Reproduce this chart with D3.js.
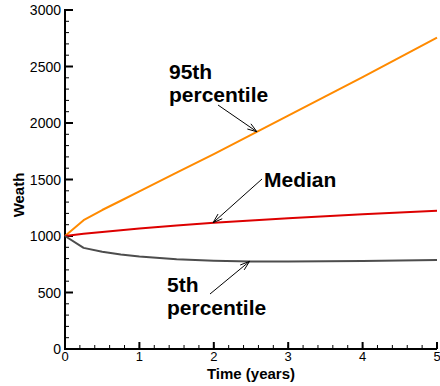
<!DOCTYPE html>
<html>
<head>
<meta charset="utf-8">
<script src="https://cdn.jsdelivr.net/npm/d3@7"></script>
<style>
  html, body { margin: 0; padding: 0; background: #fff; }
  svg { display: block; font-family: "Liberation Sans", Arial, Helvetica, sans-serif; }
</style>
</head>
<body>
<svg id="chart" width="440" height="386"></svg>
<script>
// Simulated wealth percentiles over a five-year horizon
const years = [0, 0.25, 0.5, 0.75, 1, 1.5, 2, 2.5, 3, 3.5, 4, 4.5, 5];
const p95    = [1000, 1140, 1230, 1312, 1395, 1560, 1725, 1895, 2065, 2235, 2405, 2580, 2755];
const median = [1000, 1020, 1036, 1051, 1066, 1093, 1118, 1138, 1157, 1175, 1192, 1208, 1224];
const p5     = [1000, 895, 860, 836, 818, 794, 781, 775, 774, 776, 779, 783, 787];

const xTicks = [0, 1, 2, 3, 4, 5];
const yTicks = [0, 500, 1000, 1500, 2000, 2500, 3000];

// Callout labels: text lines, anchor time for the arrow tip, and which series it points to
const callouts = [
  { lines: ["95th", "percentile"], series: p95,    tipT: 2.58 },
  { lines: ["Median"],             series: median, tipT: 1.99 },
  { lines: ["5th", "percentile"],  series: p5,     tipT: 2.48 }
];

const svg = d3.select("#chart");
const x = d3.scaleLinear().domain([0, 5]).range([65, 437]);
const y = d3.scaleLinear().domain([0, 3000]).range([349, 10]);

// Axes with inward-facing major and minor ticks
const axes = svg.append("g");
const xMinor = d3.range(0, 5.0001, 0.2);
const yMinor = d3.range(0, 3000.1, 100);

axes.append("g").selectAll("line").data(xMinor).join("line")
  .attr("x1", d => x(d)).attr("x2", d => x(d))
  .attr("y1", y(0)).attr("y2", y(0) - 4)
  .attr("stroke", "#000").attr("stroke-width", 1);
axes.append("g").selectAll("line").data(xTicks).join("line")
  .attr("x1", d => x(d)).attr("x2", d => x(d))
  .attr("y1", y(0)).attr("y2", y(0) - 7)
  .attr("stroke", "#000").attr("stroke-width", 2);
axes.append("g").selectAll("line").data(yMinor).join("line")
  .attr("x1", x(0)).attr("x2", x(0) + 4)
  .attr("y1", d => y(d)).attr("y2", d => y(d))
  .attr("stroke", "#000").attr("stroke-width", 1);
axes.append("g").selectAll("line").data(yTicks).join("line")
  .attr("x1", x(0)).attr("x2", x(0) + 8)
  .attr("y1", d => y(d)).attr("y2", d => y(d))
  .attr("stroke", "#000").attr("stroke-width", 2);

axes.append("line")
  .attr("x1", x(0)).attr("x2", x(5)).attr("y1", y(0)).attr("y2", y(0))
  .attr("stroke", "#000").attr("stroke-width", 2);
axes.append("line")
  .attr("x1", x(0)).attr("x2", x(0)).attr("y1", y(0) + 1).attr("y2", y(3000) - 1)
  .attr("stroke", "#000").attr("stroke-width", 2);

axes.append("g").selectAll("text").data(yTicks).join("text")
  .attr("x", x(0) - 4).attr("y", d => y(d)).attr("dy", "0.36em")
  .attr("text-anchor", "end").attr("font-size", 14).attr("fill", "#000")
  .text(d => d);
axes.append("g").selectAll("text").data(xTicks).join("text")
  .attr("x", d => x(d)).attr("y", y(0) + 12)
  .attr("text-anchor", "middle").attr("font-size", 13).attr("fill", "#000")
  .text(d => d);

axes.append("text")
  .attr("x", 251).attr("y", 379)
  .attr("text-anchor", "middle").attr("font-size", 15).attr("font-weight", "bold")
  .text("Time (years)");
axes.append("text")
  .attr("transform", "translate(24,195) rotate(-90)")
  .attr("text-anchor", "middle").attr("font-size", 15).attr("font-weight", "bold")
  .text("Weath");

// Percentile curves
const line = vals => d3.line().x((d, i) => x(years[i])).y(d => y(d))(vals);
const seriesList = [
  { vals: p95, color: "#ff8a00" },
  { vals: median, color: "#dd0000" },
  { vals: p5, color: "#4d4d4d" }
];
svg.append("g").selectAll("path").data(seriesList).join("path")
  .attr("d", d => line(d.vals))
  .attr("fill", "none").attr("stroke", d => d.color).attr("stroke-width", 2)
  .attr("stroke-linejoin", "round");

// Annotation text and arrows
const valueAt = (vals, t) => {
  const i = d3.bisectRight(years, t) - 1;
  const j = Math.min(i + 1, years.length - 1);
  if (i === j) return vals[i];
  const f = (t - years[i]) / (years[j] - years[i]);
  return vals[i] + f * (vals[j] - vals[i]);
};

const layout = [
  { tx: 169, ty: 79, sx: 218, sy: 105 },
  { tx: 264, ty: 187, sx: 262, sy: 179 },
  { tx: 167, ty: 292, sx: 210, sy: 294 }
];

const ann = svg.append("g");
callouts.forEach((c, k) => {
  const L = layout[k];
  const t = ann.append("text")
    .attr("x", L.tx).attr("y", L.ty)
    .attr("font-size", 21).attr("font-weight", "bold").attr("fill", "#000");
  c.lines.forEach((s, i) => {
    t.append("tspan").attr("x", L.tx).attr("dy", i === 0 ? 0 : 23).text(s);
  });
  const ex = x(c.tipT), ey = y(valueAt(c.series, c.tipT));
  const ang = Math.atan2(ey - L.sy, ex - L.sx);
  const hl = 10, ha = 0.32;
  const b1 = [ex - hl * Math.cos(ang - ha), ey - hl * Math.sin(ang - ha)];
  const b2 = [ex - hl * Math.cos(ang + ha), ey - hl * Math.sin(ang + ha)];
  ann.append("path")
    .attr("d", `M${L.sx},${L.sy}L${ex},${ey}M${b1[0]},${b1[1]}L${ex},${ey}L${b2[0]},${b2[1]}`)
    .attr("fill", "none").attr("stroke", "#000").attr("stroke-width", 1);
});
</script>
</body>
</html>
